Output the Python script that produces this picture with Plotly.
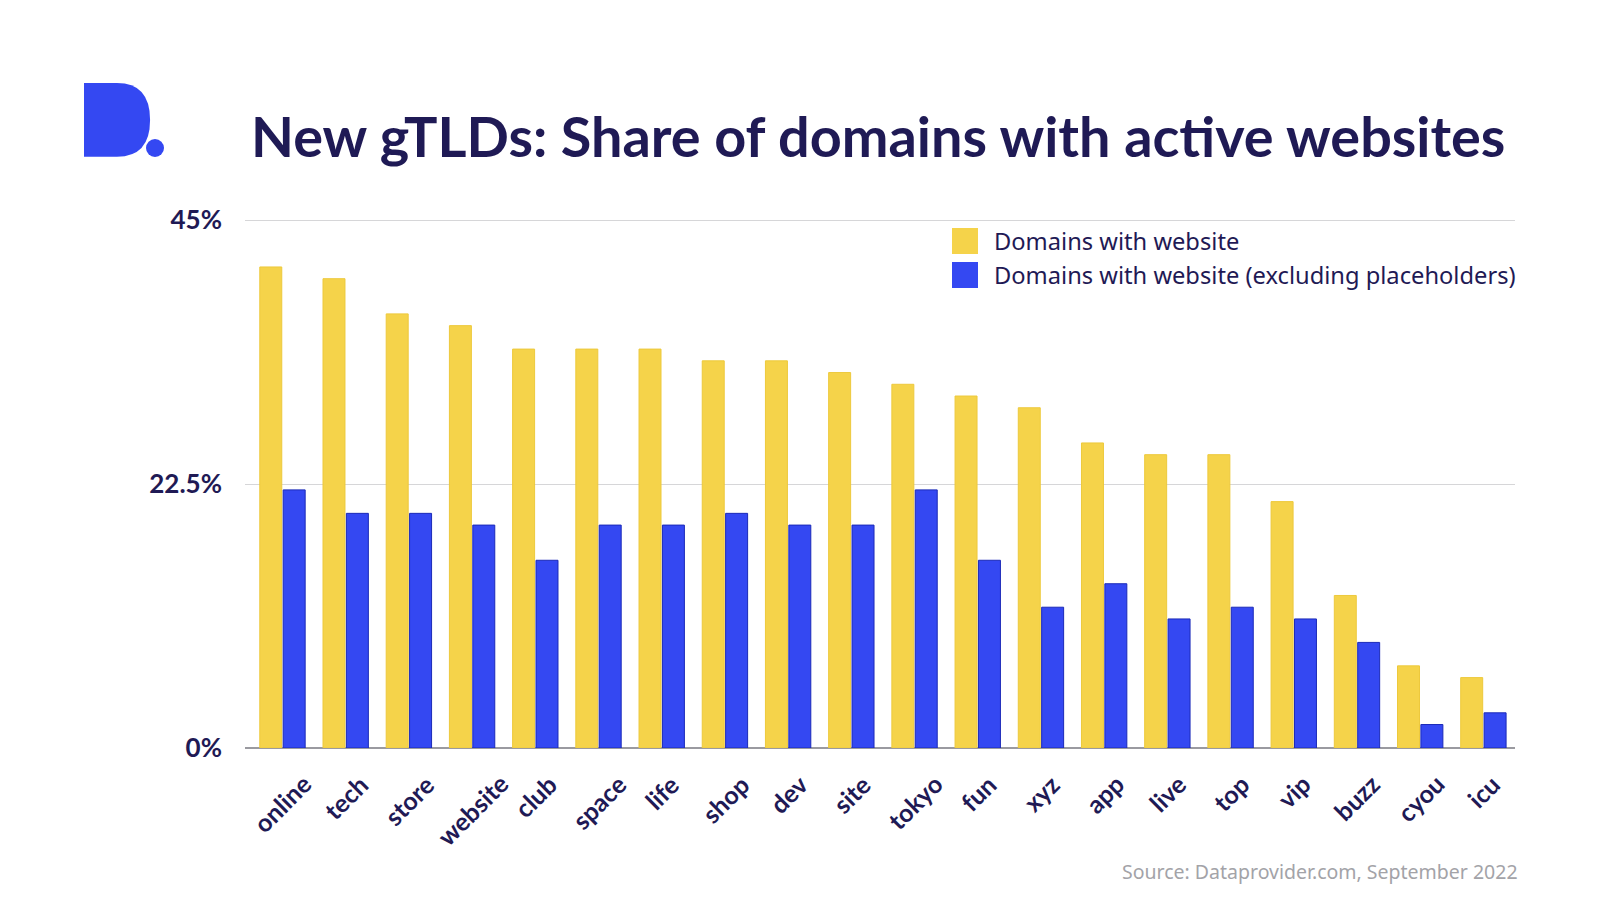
import plotly.graph_objects as go

categories = ["online", "tech", "store", "website", "club", "space", "life", "shop", "dev", "site",
              "tokyo", "fun", "xyz", "app", "live", "top", "vip", "buzz", "cyou", "icu"]
with_website = [41, 40, 37, 36, 34, 34, 34, 33, 33, 32, 31, 30, 29, 26, 25, 25, 21, 13, 7, 6]
excl_placeholders = [22, 20, 20, 19, 16, 19, 19, 20, 19, 19, 22, 16, 12, 14, 11, 12, 11, 9, 2, 3]
y_tickvals = [0, 22.5, 45]
y_ticktext = ["0%", "22.5%", "45%"]
series_names = ["Domains with website", "Domains with website (excluding placeholders)"]

YELLOW = "#F5D34A"
BLUE = "#3448F2"
NAVY = "#1F1A55"

fig = go.Figure()
fig.add_trace(go.Bar(x=categories, y=with_website, name=series_names[0],
                     marker=dict(color=YELLOW, line=dict(color="#EDC93C", width=1)),
                     showlegend=False))
fig.add_trace(go.Bar(x=categories, y=excl_placeholders, name=series_names[1],
                     marker=dict(color=BLUE, line=dict(color="#1B2AB8", width=1)),
                     showlegend=False))

fig.update_layout(
    width=1600, height=900,
    margin=dict(l=0, r=0, t=0, b=0, autoexpand=False),
    paper_bgcolor="white", plot_bgcolor="white",
    barmode="group", bargap=0.26, bargroupgap=0.06,
    xaxis=dict(domain=[245/1600, 1515/1600], automargin=False,
               showticklabels=False, showgrid=False, showline=False, ticks=""),
    yaxis=dict(domain=[(900-748)/900, (900-208.3)/900], range=[0, 46], automargin=False,
               tickvals=y_tickvals, ticktext=y_ticktext,
               tickfont=dict(family="Lato", size=26, color=NAVY, weight=700),
               showgrid=True, gridcolor="#D6D6D8", gridwidth=1,
               zeroline=True, zerolinecolor="#9A9AA0", zerolinewidth=1.5,
               ticks="", ticklabelstandoff=22),
    font=dict(family="Lato", color=NAVY),
)

# Category labels, rotated, centred under each category
for c in categories:
    fig.add_annotation(text=f"<b>{c}</b>", x=c, xref="x", y=0, yref="y",
                       xanchor="center", yanchor="top", textangle=-45, yshift=-18,
                       showarrow=False, font=dict(family="Lato", size=25, color=NAVY))

# Title
fig.add_annotation(text="<b>New gTLDs: Share of domains with active websites</b>",
                   xref="paper", yref="paper", x=249/1600, y=1-136/900,
                   xanchor="left", yanchor="middle", showarrow=False,
                   font=dict(family="Lato", size=55.8, color=NAVY))

# Logo "D."
fig.add_shape(type="path", xref="paper", yref="paper",
              path=("M 0.0525 0.9078 L 0.0731 0.9078 Q 0.0938 0.9078 0.0938 0.8667 "
                    "L 0.0938 0.8667 Q 0.0938 0.8259 0.0731 0.8259 L 0.0525 0.8259 Z"),
              fillcolor=BLUE, line=dict(width=0))
fig.add_shape(type="circle", xref="paper", yref="paper",
              x0=(155-9)/1600, x1=(155+9)/1600, y0=1-(148+9)/900, y1=1-(148-9)/900,
              fillcolor=BLUE, line=dict(width=0))

# Manual legend
legend_colors = [YELLOW, BLUE]
legend_y = [241, 275]
for name, col, yy in zip(series_names, legend_colors, legend_y):
    fig.add_shape(type="rect", xref="paper", yref="paper",
                  x0=952/1600, x1=978/1600, y0=1-(yy+13)/900, y1=1-(yy-13)/900,
                  fillcolor=col, line=dict(width=0))
    fig.add_annotation(text=name, xref="paper", yref="paper", x=992/1600, y=1-yy/900,
                       xanchor="left", yanchor="middle", showarrow=False,
                       font=dict(family="Noto Sans", size=23.7, color=NAVY))

# Source
fig.add_annotation(text="Source: Dataprovider.com, September 2022", xref="paper", yref="paper",
                   x=1520/1600, y=1-871/900, xanchor="right", yanchor="middle", showarrow=False,
                   font=dict(family="Noto Sans", size=19.5, color="#A3A3A8"))

fig.write_html("out.html", config={"displayModeBar": False},
               post_script="document.body.style.margin='0px';document.body.style.padding='0px';")
